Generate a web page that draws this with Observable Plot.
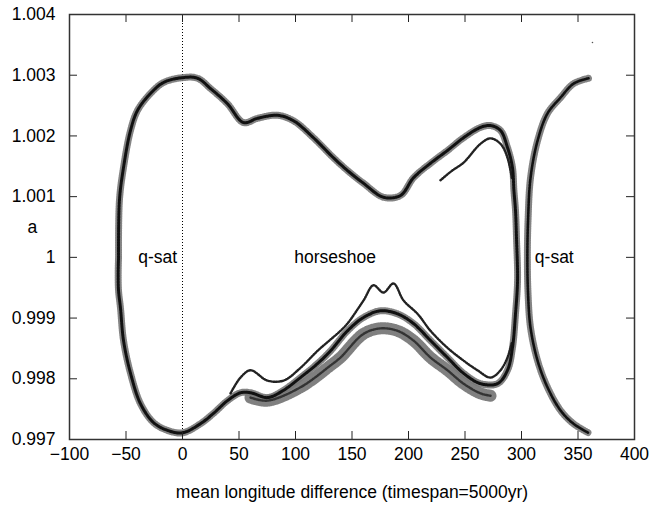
<!DOCTYPE html>
<html><head><meta charset="utf-8">
<script src="https://cdn.jsdelivr.net/npm/d3@7"></script>
<script src="https://cdn.jsdelivr.net/npm/@observablehq/plot@0.6"></script>
<style>body{margin:0;background:#fff}</style>
</head><body><div id="chart"></div>
<script>
// ---- data ----
const xTicks = [-100, -50, 0, 50, 100, 150, 200, 250, 300, 350, 400];
const yTicks = [0.997, 0.998, 0.999, 1.000, 1.001, 1.002, 1.003, 1.004];
const yTickLabels = ["0.997", "0.998", "0.999", "1", "1.001", "1.002", "1.003", "1.004"];

const xLabel = "mean longitude difference (timespan=5000yr)";
const yLabel = "a";

const regionLabels = ["q-sat", "horseshoe", "q-sat"];
const regionX = [-22, 135, 329];
const regionY = [1.0, 1.0, 1.0];

// main horseshoe orbit, upper branch (left to right)
const upperX = [-56.6, -55.8, -52.2, -46, -39.8, -28.3, -16.8, 0, 13.3, 24.8, 39.8, 54, 66.4, 84, 98.2, 115.9, 133.6, 146, 160.2, 177.9, 193, 204.4, 219.5, 234.5, 248.7, 263.7, 272.6, 281.4, 287.6, 292, 293.3, 294.7, 295.6];
const upperY = [1.0, 1.00094, 1.00148, 1.00209, 1.00242, 1.0027, 1.00288, 1.00296, 1.00295, 1.00278, 1.00253, 1.00222, 1.00229, 1.00234, 1.00225, 1.00197, 1.00164, 1.00143, 1.00122, 1.00099, 1.00102, 1.00131, 1.00155, 1.00176, 1.00197, 1.00214, 1.00217, 1.00209, 1.00181, 1.00148, 1.0011, 1.00077, 1.0003];
// main orbit, lower branch (right to left, back up to a = 1)
const lowerX = [296.5, 294.7, 292, 287.6, 278.8, 263.7, 248.7, 234.5, 219.5, 204.4, 190.3, 175.2, 160.2, 146, 131, 119.5, 104.4, 89.4, 75.2, 60.2, 51.3, 39.8, 27.4, 15.9, 0, -13.3, -25.7, -37.2, -46, -52.2, -54.9, -56.6, -56.9, -56.6];
const lowerY = [0.99962, 0.99907, 0.99851, 0.99814, 0.99792, 0.99792, 0.99809, 0.99835, 0.99863, 0.99891, 0.99907, 0.99912, 0.99901, 0.99879, 0.99846, 0.99825, 0.99802, 0.99781, 0.99769, 0.99777, 0.99777, 0.99764, 0.99743, 0.99726, 0.99711, 0.99715, 0.99728, 0.99759, 0.99809, 0.99863, 0.99917, 0.99945, 0.99975, 1.0];
// wrapped q-sat part (305..360)
const rightX = [359.3, 346, 334.5, 323, 314.2, 308, 305.8, 305.2, 305.8, 308, 314.2, 323, 334.5, 346, 359.3];
const rightY = [1.00295, 1.00286, 1.00263, 1.00237, 1.00192, 1.00131, 1.00061, 1.0, 0.9994, 0.99884, 0.9983, 0.99786, 0.99748, 0.99726, 0.99711];
// inner strand of the upper branch
const innerX = [228.3, 238, 248.7, 263.7, 272.6, 281.4, 287.6, 291.5];
const innerY = [1.00127, 1.00142, 1.00156, 1.00187, 1.00196, 1.00187, 1.00164, 1.0013];
// outer strand of the lower branch
const outerX = [42.5, 51.3, 60.2, 75.2, 89.4, 104.4, 119.5, 139.8, 146, 160.2, 169, 177.9, 186.7, 195.6, 208, 219.5, 234.5, 248.7, 261, 272.6, 281.4, 287.6, 291.5];
const outerY = [0.99776, 0.99802, 0.99814, 0.99797, 0.99797, 0.99818, 0.99846, 0.99879, 0.99891, 0.99929, 0.99954, 0.99942, 0.99957, 0.99929, 0.99907, 0.99879, 0.99851, 0.9983, 0.99814, 0.99802, 0.99814, 0.99835, 0.9986];
// lower fringe of the lower branch
const fringeX = [60.2, 75.2, 104.4, 131, 139.8, 160.2, 175.2, 190.3, 204.4, 219.5, 234.5, 248.7, 263.7, 272.6];
const fringeY = [0.99769, 0.99764, 0.99786, 0.99822, 0.99835, 0.99874, 0.99883, 0.99879, 0.99863, 0.99835, 0.99814, 0.99792, 0.99776, 0.99772];
// stray point
const strayX = [362.8];
const strayY = [1.00354];

// ---- build tables ----
const pts = (xs, ys) => xs.map((x, i) => ({x, y: ys[i]}));
const mainPts = pts(upperX.concat(lowerX), upperY.concat(lowerY));
const rightPts = pts(rightX, rightY);
const innerPts = pts(innerX, innerY);
const outerPts = pts(outerX, outerY);
const fringePts = pts(fringeX, fringeY);
const strayPts = pts(strayX, strayY);
const labelPts = regionLabels.map((t, i) => ({t, x: regionX[i], y: regionY[i]}));
const yLab = new Map(yTicks.map((v, i) => [v, yTickLabels[i]]));

const W = 652, H = 515, mL = 69, mR = 18, mT = 14, mB = 76;
const fw = W - mL - mR, fh = H - mT - mB;
const font = "'Liberation Sans', Arial, sans-serif";
const fs = 17.5;

const band = (data, w, dash, col, op = 1) => Plot.line(data, {x: "x", y: "y", curve: "catmull-rom", stroke: col, strokeWidth: w, strokeDasharray: dash, strokeOpacity: op});

const chart = Plot.plot({
  width: W, height: H,
  marginLeft: mL, marginRight: mR, marginTop: mT, marginBottom: mB,
  style: {fontFamily: font, fontSize: fs + "px", color: "#000", background: "#fff"},
  x: {domain: [-100, 400]},
  y: {domain: [0.997, 1.004]},
  marks: [
    Plot.ruleX([0], {stroke: "#000", strokeWidth: 1, strokeDasharray: "1,2"}),
    band(fringePts, 12, "0.8 1.2", "#555", 0.75),
    band(mainPts, 7, "0.8 1.6", "#777", 0.9),
    band(rightPts, 7, "0.8 1.6", "#777", 0.9),
    band(fringePts, 2.4, "1 1", "#333"),
    band(outerPts, 2.4, "1.2 1.3", "#222"),
    band(innerPts, 2.4, "1.2 1.3", "#222"),
    band(mainPts, 3, "2 0.8", "#111"),
    band(rightPts, 2.6, "2 0.8", "#111"),
    Plot.dot(strayPts, {x: "x", y: "y", r: 0.8, fill: "#555"}),
    Plot.tickX(xTicks, {x: d => d, insetTop: fh - 8, stroke: "#222"}),
    Plot.tickX(xTicks, {x: d => d, insetBottom: fh - 8, stroke: "#222"}),
    Plot.tickY(yTicks, {y: d => d, insetRight: fw - 8, stroke: "#222"}),
    Plot.tickY(yTicks, {y: d => d, insetLeft: fw - 8, stroke: "#222"}),
    Plot.frame({stroke: "#333", strokeWidth: 1.5}),
    Plot.axisX(xTicks, {tickSize: 0, tickPadding: 8, label: null, fontSize: fs}),
    Plot.axisY(yTicks, {tickSize: 0, tickPadding: 14, label: null, fontSize: fs, tickFormat: d => yLab.get(d)}),
    Plot.text(labelPts, {x: "x", y: "y", text: "t", fontSize: fs, fill: "#000"}),
    Plot.text([xLabel], {frameAnchor: "bottom", dy: 58, text: d => d, fontSize: fs, fill: "#000"}),
    Plot.text([yLabel], {frameAnchor: "left", dx: -42, text: d => d, fontSize: fs, fill: "#000"})
  ]
});
document.getElementById("chart").appendChild(chart);
</script>
</body></html>
